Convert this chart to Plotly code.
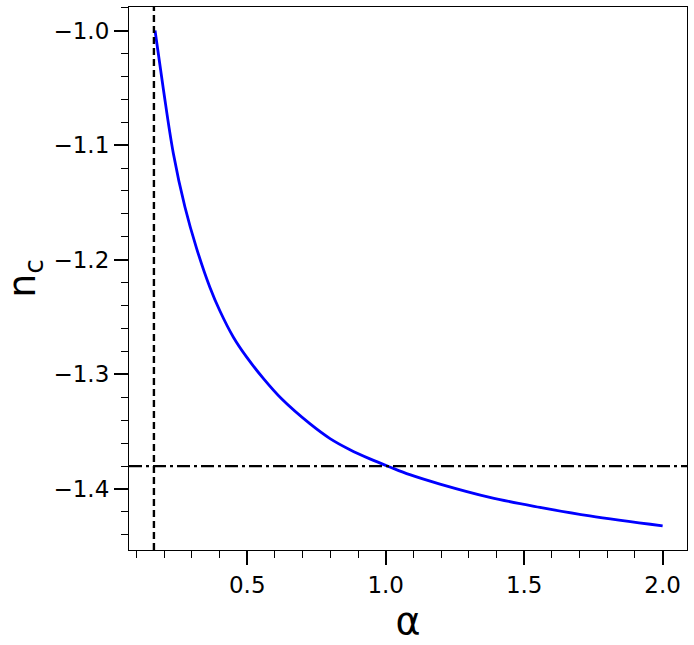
import plotly.graph_objects as go

# values
alpha = [0.167, 0.197, 0.233, 0.275, 0.317, 0.365, 0.401, 0.450, 0.498, 0.558,
         0.624, 0.726, 0.799, 0.871, 0.943, 1.015, 1.087, 1.196, 1.376, 1.557,
         1.737, 2.0]
n_c = [-1.0, -1.051, -1.107, -1.154, -1.190, -1.224, -1.2445, -1.2676, -1.285, -1.3035,
       -1.3213, -1.343, -1.356, -1.3657, -1.3737, -1.3808, -1.3875, -1.3957, -1.4073, -1.416,
       -1.4235, -1.4322]

alpha_min = 0.163   # vertical dashed line
n_ref = -1.38       # horizontal dash-dot line

FONT = "DejaVu Sans"

fig = go.Figure()
fig.add_trace(go.Scatter(x=alpha, y=n_c, mode='lines', line_shape='spline',
                         line=dict(color='#0000ff', width=2.8), showlegend=False))

fig.add_vline(x=alpha_min, line=dict(color='black', width=2.4, dash='7px,4px'))
fig.add_hline(y=n_ref, line=dict(color='black', width=2.4, dash='13px,4px,3px,4px'))

axis_common = dict(showline=True, linecolor='black', linewidth=1.2, mirror=True,
                   ticks='outside', ticklen=14, tickwidth=2, tickcolor='black',
                   showgrid=False, zeroline=False,
                   tickfont=dict(family=FONT, size=23, color='black'))

fig.update_layout(
    width=694, height=645,
    margin=dict(l=129, r=7, t=7, b=95),
    plot_bgcolor='white', paper_bgcolor='white',
    xaxis=dict(range=[0.073, 2.088], dtick=0.5, tickformat='.1f',
               minor=dict(dtick=0.1, ticks='outside', ticklen=7, tickwidth=1.2, tickcolor='black'),
               title=dict(text='α', font=dict(family=FONT, size=38, color='black'), standoff=10),
               **axis_common),
    yaxis=dict(range=[-1.4532, -0.9795], dtick=0.1, tickformat='.1f',
               minor=dict(dtick=0.02, ticks='outside', ticklen=7, tickwidth=1.2, tickcolor='black'),
               title=dict(text='n<sub>c</sub>', font=dict(family=FONT, size=38, color='black'), standoff=6),
               **axis_common),
)

# drop the browser's default page margin so the figure sits at the top-left corner
fig.write_html("out.html", config={'displayModeBar': False},
               post_script="document.body.style.margin='0';")
